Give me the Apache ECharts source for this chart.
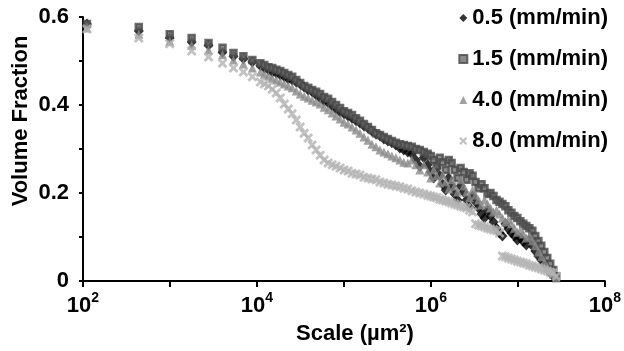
<!DOCTYPE html>
<html>
<head>
<meta charset="utf-8">
<script src="https://cdn.jsdelivr.net/npm/echarts@6/dist/echarts.min.js"></script>
<style>
  html, body { margin: 0; background: #fff; }
  #chart { width: 624px; height: 351px; }
</style>
</head>
<body>
<div id="chart"></div>
<script>
// scale (um^2) shared by all four series
const scales = [
  111, 438, 993, 1774, 2775, 4018, 5370, 6985, 8855,
  1.094e4, 1.216e4, 1.352e4, 1.500e4, 1.668e4, 1.854e4, 2.06e4, 2.29e4, 2.54e4, 2.83e4,
  3.14e4, 3.49e4, 3.88e4, 4.31e4, 4.79e4, 5.32e4, 5.92e4, 6.58e4, 7.31e4, 8.11e4,
  9.02e4, 1.002e5, 1.114e5, 1.238e5, 1.377e5, 1.528e5, 1.698e5, 1.888e5, 2.099e5, 2.333e5,
  2.594e5, 2.877e5, 3.199e5, 3.556e5, 3.954e5, 4.395e5, 4.875e5, 5.42e5, 6.03e5, 6.70e5,
  7.45e5, 8.28e5, 9.18e5,
  9.95e5, 1.077e6, 1.164e6, 1.262e6, 1.365e6, 1.479e6, 1.600e6, 1.730e6, 1.875e6, 2.028e6,
  2.193e6, 2.377e6, 2.570e6, 2.780e6, 3.013e6, 3.258e6, 3.532e6, 3.819e6, 4.13e6, 4.48e6,
  4.84e6, 5.24e6, 5.68e6, 6.14e6, 6.64e6, 7.19e6, 7.78e6, 8.43e6, 9.12e6, 9.86e6,
  1.069e7, 1.156e7, 1.250e7, 1.355e7, 1.466e7, 1.585e7, 1.718e7, 1.858e7, 2.014e7, 2.178e7,
  2.355e7, 2.553e7, 2.761e7, 2.985e7
]

const frac05 = [
  0.584, 0.568, 0.552, 0.543, 0.536, 0.520, 0.511, 0.505, 0.498,
  0.489, 0.484, 0.480, 0.475, 0.473, 0.468, 0.464, 0.459, 0.457, 0.452,
  0.448, 0.441, 0.434, 0.430, 0.423, 0.416, 0.409, 0.405, 0.398, 0.391,
  0.384, 0.380, 0.375, 0.370, 0.364, 0.359, 0.352, 0.348, 0.341, 0.334,
  0.330, 0.323, 0.318, 0.314, 0.309, 0.302, 0.298, 0.293, 0.289, 0.275,
  0.261, 0.280, 0.264,
  0.248, 0.234, 0.257, 0.239, 0.220, 0.207, 0.234, 0.216, 0.198, 0.184,
  0.216, 0.202, 0.184, 0.168, 0.193, 0.180, 0.166, 0.152, 0.143, 0.161,
  0.148, 0.134, 0.120, 0.109, 0.102, 0.130, 0.118, 0.109, 0.102, 0.093,
  0.098, 0.089, 0.082, 0.093, 0.080, 0.068, 0.057, 0.048, 0.039, 0.030,
  0.020, 0.011, null, null
]

const frac15 = [
  0.584, 0.577, 0.561, 0.552, 0.541, 0.530, 0.518, 0.511, 0.502,
  0.495, 0.491, 0.486, 0.484, 0.480, 0.477, 0.473, 0.468, 0.464, 0.457,
  0.450, 0.443, 0.439, 0.434, 0.430, 0.425, 0.418, 0.414, 0.407, 0.400,
  0.393, 0.386, 0.382, 0.377, 0.370, 0.364, 0.357, 0.350, 0.343, 0.336,
  0.332, 0.327, 0.323, 0.318, 0.314, 0.311, 0.309, 0.307, 0.305, 0.300,
  0.298, 0.293, 0.289,
  0.284, 0.275, 0.261, 0.280, 0.270, 0.252, 0.275, 0.268, 0.252, 0.234,
  0.257, 0.248, 0.230, 0.245, 0.239, 0.225, 0.211, 0.220, 0.211, 0.198,
  0.200, 0.193, 0.184, 0.180, 0.175, 0.170, 0.161, 0.155, 0.148, 0.143,
  0.136, 0.130, 0.125, 0.120, 0.114, 0.102, 0.091, 0.080, 0.066, 0.052,
  0.039, 0.025, 0.011, null
]

const frac40 = [
  0.575, 0.561, 0.545, 0.536, 0.525, 0.514, 0.502, 0.493, 0.484,
  0.475, 0.470, 0.466, 0.461, 0.457, 0.452, 0.448, 0.443, 0.439, 0.432,
  0.425, 0.420, 0.416, 0.411, 0.407, 0.402, 0.395, 0.389, 0.382, 0.375,
  0.368, 0.361, 0.357, 0.350, 0.343, 0.336, 0.327, 0.320, 0.311, 0.305,
  0.298, 0.293, 0.289, 0.284, 0.280, 0.275, 0.270, 0.268, 0.275, 0.264,
  0.252, 0.264, 0.248,
  0.234, 0.252, 0.239, 0.223, 0.241, 0.225, 0.209, 0.230, 0.216, 0.202,
  0.230, 0.216, 0.202, 0.189, 0.207, 0.195, 0.184, 0.173, 0.184, 0.175,
  0.166, 0.157, 0.161, 0.152, 0.143, 0.134, 0.139, 0.130, 0.120, 0.111,
  0.116, 0.107, 0.098, 0.102, 0.091, 0.080, 0.066, 0.055, 0.043, 0.032,
  0.023, 0.016, 0.007, null
]

const frac80 = [
  0.573, 0.552, 0.539, 0.523, 0.509, 0.495, 0.484, 0.475, 0.464,
  0.452, 0.448, 0.443, 0.436, 0.427, 0.416, 0.402, 0.391, 0.380, 0.366,
  0.350, 0.336, 0.325, 0.309, 0.298, 0.286, 0.275, 0.268, 0.264, 0.261,
  0.257, 0.252, 0.250, 0.245, 0.243, 0.241, 0.236, 0.234, 0.232, 0.230,
  0.225, 0.223, 0.220, 0.218, 0.216, 0.214, 0.211, 0.209, 0.205, 0.202,
  0.200, 0.198, 0.195,
  0.193, 0.191, 0.189, 0.186, 0.184, 0.182, 0.180, 0.177, 0.175, 0.173,
  0.170, 0.168, 0.166, 0.161, 0.157,
  0.130, 0.127, 0.125, 0.123, 0.120, 0.118, 0.116, 0.114, 0.109,
  0.057, 0.055, 0.052, 0.050, 0.048, 0.045, 0.043, 0.041, 0.039, 0.036,
  0.034, 0.032, 0.030, 0.027, 0.025, 0.023, 0.020, 0.018, 0.011, null
]

const seriesNames = ['0.5 (mm/min)', '1.5 (mm/min)', '4.0 (mm/min)', '8.0 (mm/min)']

const FONT = '"Liberation Sans", Arial, sans-serif'
const crossPath = 'path://M0,2L2,0L5,3L8,0L10,2L7,5L10,8L8,10L5,7L2,10L0,8L3,5Z'

// 把 y 数组和 scales 配成散点
function pairs(ys) {
  const out = []
  ys.forEach((y, i) => {
    if (y !== null) out.push([scales[i], y])
  })
  return out
}

const chart = echarts.init(document.getElementById('chart'))

chart.setOption({
  animation: false,
  backgroundColor: '#fff',
  textStyle: { fontFamily: FONT },
  grid: { left: 83, right: 17, top: 17, bottom: 70 },
  legend: {
    orient: 'vertical',
    right: 11,
    top: 2,
    itemWidth: 8,
    itemHeight: 8,
    itemGap: 19,
    textStyle: { fontFamily: FONT, fontSize: 22, fontWeight: 'bold', color: '#000', lineHeight: 22 },
    data: seriesNames
  },
  graphic: [
    {
      type: 'text',
      x: 21,
      y: 121,
      rotation: Math.PI / 2,
      style: {
        text: 'Volume Fraction',
        font: 'bold 22px ' + FONT,
        fill: '#000',
        textAlign: 'center',
        textVerticalAlign: 'middle'
      }
    },
    {
      type: 'text',
      x: 355,
      y: 334,
      style: {
        text: 'Scale (\u00b5m\u00b2)',
        font: 'bold 22px ' + FONT,
        fill: '#000',
        textAlign: 'center',
        textVerticalAlign: 'middle'
      }
    }
  ],
  xAxis: {
    type: 'log',
    logBase: 10,
    min: 100,
    max: 1e8,
    splitNumber: 6,
    axisLine: { lineStyle: { color: '#000', width: 2 } },
    axisTick: { length: 6, lineStyle: { color: '#000', width: 2 } },
    splitLine: { show: false },
    axisLabel: {
      margin: 10,
      color: '#000',
      formatter: v => {
        const e = Math.round(Math.log10(v))
        return e % 2 ? '' : '{b|10}{s|' + e + '}'
      },
      rich: {
        b: { fontFamily: FONT, fontSize: 22, fontWeight: 'bold', color: '#000', lineHeight: 26, verticalAlign: 'bottom' },
        s: { fontFamily: FONT, fontSize: 14, fontWeight: 'bold', color: '#000', lineHeight: 26, verticalAlign: 'top', padding: [0, 0, 10, 0] }
      }
    }
  },
  yAxis: {
    type: 'value',
    min: 0,
    max: 0.6,
    interval: 0.1,
    axisLine: { show: true, lineStyle: { color: '#000', width: 2 } },
    axisTick: { show: true, length: 4, lineStyle: { color: '#000', width: 2 } },
    splitLine: { show: false },
    axisLabel: {
      margin: 14,
      padding: [6, 0, 0, 0],
      color: '#000',
      fontFamily: FONT,
      fontSize: 22,
      fontWeight: 'bold',
      formatter: v => {
        const k = Math.round(v * 10)
        if (k % 2) return ''
        return k === 0 ? '0' : v.toFixed(1)
      }
    }
  },
  series: [
    {
      name: seriesNames[0],
      type: 'scatter',
      symbol: 'diamond',
      symbolSize: [10, 11],
      itemStyle: { color: '#000' },
      data: pairs(frac05)
    },
    {
      name: seriesNames[1],
      type: 'scatter',
      symbol: 'rect',
      symbolSize: 6,
      itemStyle: { color: '#6e6e6e', borderColor: '#484848', borderWidth: 2.5 },
      data: pairs(frac15)
    },
    {
      name: seriesNames[2],
      type: 'scatter',
      symbol: 'triangle',
      symbolSize: 9,
      itemStyle: { color: '#8a8a8a' },
      data: pairs(frac40)
    },
    {
      name: seriesNames[3],
      type: 'scatter',
      symbol: crossPath,
      symbolSize: 10,
      itemStyle: { color: '#b3b3b3' },
      data: pairs(frac80)
    }
  ]
})
</script>
</body>
</html>
